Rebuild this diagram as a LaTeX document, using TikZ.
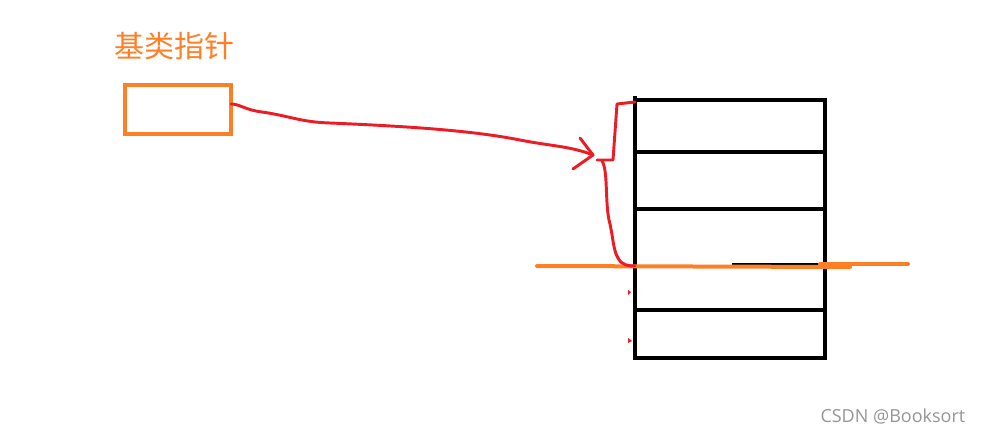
\documentclass[tikz,border=0pt]{standalone}
\usepackage{fontspec}
\newfontfamily\cjk{Noto Sans CJK SC}
\newfontfamily\wm{Open Sans}
\definecolor{porange}{RGB}{255,127,39}
\definecolor{pred}{RGB}{237,28,36}
\definecolor{wmgray}{RGB}{150,150,150}
\begin{document}
\begin{tikzpicture}[x=0.75pt,y=-0.75pt,
  blk/.style={draw=black,line width=3pt},
  org/.style={draw=porange,line width=3pt},
  redl/.style={draw=pred,line width=2.2pt,line cap=round,line join=round}]
\useasboundingbox (0,0) rectangle (985,435);
% title
\node[text=porange,font=\cjk\fontsize{22.5}{25}\selectfont,anchor=center] (title) at (174,46) {基类指针};
% pointer box
\draw[org] (125,85) rectangle (231,134);
\coordinate (pstart) at (231,104);
% memory block
\coordinate (mtl) at (635,100);
\coordinate (mbr) at (825,358);
\draw[blk] (mtl) rectangle (mbr);
\draw[blk] (635,96) -- (635,100);
\draw[blk] (635,152) -- (825,152);
\draw[blk] (635,209) -- (827,209);
\draw[blk] (635,310) -- (825,310);
\draw[draw=black,line width=1pt] (732,264) -- (820,264);
% orange cut line
\coordinate (oleft) at (537,266);
\coordinate (oright) at (850,267);
\draw[org,line cap=round] (oleft) -- (oright);
\draw[org,line cap=round] (820,264) -- (908,264);
% red pointer curve
\coordinate (tip) at (593,155);
\draw[redl] (pstart) .. controls (240,104) and (245,110) .. (262,112)
  .. controls (290,116) and (300,122) .. (330,123)
  .. controls (400,126) and (470,130) .. (520,140)
  .. controls (550,146) and (570,146) .. (tip);
\draw[redl] (580,138) -- (tip) -- (573,169);
% red brace
\draw[redl] (597,160) -- (613,160) -- (617,104) -- (635,102);
\draw[redl] (602,161) .. controls (608,170) and (605,200) .. (609,220)
  .. controls (613,235) and (613,250) .. (618,258)
  .. controls (622,266) and (630,266) .. (635,266);
% tiny red marks
\fill[pred] (628,290) -- (631,292) -- (628,295) -- cycle;
\fill[pred] (628,338) -- (632,341) -- (628,343) -- cycle;
% watermark
\node[text=wmgray,font=\wm\fontsize{13.5}{16}\selectfont,anchor=east] (wmark) at (970,416) {CSDN @Booksort};
\end{tikzpicture}
\end{document}
